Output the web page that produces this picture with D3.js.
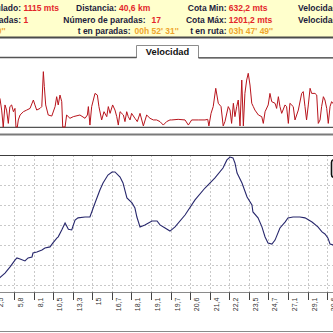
<!DOCTYPE html>
<html><head><meta charset="utf-8">
<script src="https://cdn.jsdelivr.net/npm/d3@7"></script>
<style>body{margin:0;background:#fff}svg{display:block}text{font-family:"Liberation Sans",Arial,sans-serif}</style>
</head><body>
<script>
// ---- data ----
const headerCol1Labels = ["Desnivel acumulado:", "Paradas:", "t total:"];
const headerCol1Values = ["1115 mts", "1", "04h 40' 20''"];
const headerCol2Labels = ["Distancia:", "Número de paradas:", "t en paradas:"];
const headerCol2Values = ["40,6 km", "17", "00h 52' 31''"];
const headerCol3Labels = ["Cota Min:", "Cota Máx:", "t en ruta:"];
const headerCol3Values = ["632,2 mts", "1201,2 mts", "03h 47' 49''"];
const headerCol4Labels = ["Velocidad media:", "Velocidad máxima:"];
const tabTitle = "Velocidad";

const tickTimes = [10,20,30,40,50,60,70,80,90,100,110,120,130,140,150,160,170,180];
const tickLabels = ["2,5","5,8","8,1","10,5","13,3","15","16,7","18,1","19,1","19,7","20,6","21,4","22,2","23,5","24,7","27,1","29,1","30,6"];

const elevTime = [11,12.8,15.4,18.0,20.5,21.5,23.1,25.6,27.2,29.2,29.7,31.7,34.3,35.8,38.4,39.9,42.0,42.6,44.4,46.1,47.8,49.5,51.2,52.7,56.3,58.8,61.4,63.9,65.5,68.0,70.1,71.6,74.2,75.7,77.7,80.3,81.8,82.8,84.4,86.9,90.5,93.1,94.6,97.2,99.7,102.3,107.4,112.5,117.6,122.7,126.8,128.8,130.4,131.9,132.9,134.0,136.5,139.1,141.6,142.1,144.7,146.7,148.3,149.8,151.8,153.4,155.9,158.5,160.0,162.6,166.1,168.7,172.3,175.3,177.4,178.9,180.4,181.5,183.0,184];
const elevValue = [640,652,673,701,732,742,737,728,742,746,764,769,778,787,792,810,833,838,869,901,872,869,914,924,928,928,992,1051,1083,1119,1133,1133,1110,1083,1015,992,969,928,883,892,910,910,892,878,864,883,937,1006,1060,1106,1151,1188,1201,1197,1174,1128,1083,1019,983,951,924,883,837,810,805,823,878,905,924,928,928,924,905,883,860,851,833,805,801,798];

const speedTime = [12.8,13.7,14.5,15.4,16.2,17.1,17.9,18.8,19.7,20.5,21.0,21.7,22.2,23.1,24.8,26.5,28.2,29.9,30.7,31.6,33.3,34.2,35.0,35.5,36.2,37.5,39.3,41.0,41.8,42.6,43.5,44.4,44.9,46.1,46.9,48.6,50.3,53.7,56.3,57.5,58.0,58.8,59.7,61.4,62.6,63.4,64.8,66.0,67.4,68.2,69.1,70.4,71.6,72.5,73.3,74.2,75.9,76.7,77.6,78.4,79.3,80.1,81.8,83.0,84.4,86.1,87.8,89.5,91.2,92.9,94.6,96.3,98.0,99.7,100.6,103.9,107.4,109.1,110.8,114.2,117.6,119.0,119.6,120.7,121.8,123.1,124.4,125.8,126.9,127.8,129.5,130.4,131.2,132.1,132.9,133.8,134.6,135.5,136.4,137.2,138.0,138.9,139.7,140.6,141.5,142.3,143.1,144.9,146.6,147.4,148.3,149.9,150.8,151.7,153.4,154.2,155.1,155.9,156.8,158.5,159.3,160.2,161.0,162.7,163.6,165.3,167.0,167.8,168.7,169.5,170.4,171.3,172.1,173.8,174.7,175.5,176.4,177.2,178.1,178.9,179.8,180.6,181.5,182.3,183.5];
const speedValue = [19.1,11.3,0,14.7,11.3,2.4,13.6,14.7,10.2,12.4,0,0,4.7,8,10.2,11.3,12.4,18,14.7,11.3,12.4,13.6,36.9,26.9,14.7,8,7.3,13.6,20.2,14.7,21.3,16.9,0,0,8,5.8,6.9,8,5.8,8,13.6,1.3,13.6,22.4,21.3,13.6,4.7,10.2,6.9,13.6,9.1,14.7,11.3,6.9,1.3,10.2,8,3.6,10.2,6.9,4.7,9.1,5.8,3.6,9.1,0.7,8,5.8,4.7,4.7,3.6,1.3,3.6,4.7,4.7,5.1,4.7,1.3,4.7,4.7,4.7,5.1,0.7,9.1,13.6,25.8,15.8,13.6,0.7,3.6,13.6,11.3,2.4,15.8,6.9,13.6,18,0.7,31.3,0.7,22.4,31.3,35.8,28,15.8,13.6,11.3,8,6.9,2.4,10.2,14.7,22.4,16.9,15.8,12.4,20.2,13.6,9.1,14.7,13.6,2.4,15.8,13.6,4.7,11.3,22.4,23.6,13.6,4.7,14.7,25.8,22.4,22.4,21.3,2.4,4.7,13.6,20.2,18,12.4,2.4,13.6,16.9,15];

// ---- drawing ----
const W = 333, H = 333;
const svg = d3.select("body").append("svg").attr("width", W).attr("height", H);

const labelColor = "#1c1c3c", redColor = "#e3262a", orangeColor = "#eea52c";

// header
svg.append("rect").attr("x",0).attr("y",0).attr("width",W).attr("height",37).attr("fill","#ffffcc");
svg.append("line").attr("x1",0).attr("x2",W).attr("y1",37.5).attr("y2",37.5).attr("stroke","#4a4a4a").attr("stroke-width",2);
const rowY = [10.5, 22.5, 34.2];
const hfs = 8.5;
function hText(x, y, str, color, anchor){
  svg.append("text").attr("x",x).attr("y",y).attr("font-size",hfs).attr("font-weight","bold")
    .attr("fill",color).attr("text-anchor",anchor||"start").text(str);
}
const valColor = i => i === 2 ? orangeColor : redColor;
// col1
headerCol1Labels.forEach((l,i)=>{
  if (i < 2) { hText(21, rowY[i], l, labelColor, "end"); hText(23.5, rowY[i], headerCol1Values[i], valColor(i)); }
  else { hText(5.5, rowY[i], headerCol1Values[i], valColor(i), "end"); hText(-43, rowY[i], l, labelColor, "end"); }
});
// col2
const c2LabelX = [76, 63.3, 77.7], c2ValX = [119, 151.5, 134.5];
headerCol2Labels.forEach((l,i)=>{ hText(c2LabelX[i], rowY[i], l, labelColor); hText(c2ValX[i], rowY[i], headerCol2Values[i], valColor(i)); });
// col3
headerCol3Labels.forEach((l,i)=>{ hText(226.5, rowY[i], l, labelColor, "end"); hText(228.8, rowY[i], headerCol3Values[i], valColor(i)); });
// col4
headerCol4Labels.forEach((l,i)=>{ hText(298, rowY[i], l, labelColor); });

// x scale (time) shared by both charts
const x = d3.scaleLinear().domain([10, 180]).range([-5.57, 327.1]);

// speed panel
const ySpeed = d3.scaleLinear().domain([0, 46]).range([127, 58]);
svg.append("path").attr("d","M136.5,58 V45.5 H198.5 V58").attr("fill","#fff").attr("stroke","#8c8c8c").attr("stroke-width",1);
svg.append("text").attr("x",167.5).attr("y",55).attr("text-anchor","middle").attr("font-size",9.3)
  .attr("font-weight","bold").attr("fill","#111").text(tabTitle);
svg.append("line").attr("x1",0).attr("x2",136.5).attr("y1",57.5).attr("y2",57.5).attr("stroke","#555").attr("stroke-width",1.3);
svg.append("line").attr("x1",198.5).attr("x2",W).attr("y1",57.8).attr("y2",57.8).attr("stroke","#333").attr("stroke-width",1.3);
svg.append("line").attr("x1",0).attr("x2",W).attr("y1",ySpeed(0)+0.3).attr("y2",ySpeed(0)+0.3).attr("stroke","#2a2a2a").attr("stroke-width",1);
const speedLine = d3.line().x((d,i)=>x(speedTime[i])).y(d=>ySpeed(d));
svg.append("path").datum(speedValue).attr("d",speedLine).attr("fill","none").attr("stroke","#b8141c").attr("stroke-width",1);
svg.append("line").attr("x1",0).attr("x2",W).attr("y1",134.5).attr("y2",134.5).attr("stroke","#7a7a7a").attr("stroke-width",2);

// elevation panel
const yElev = d3.scaleLinear().domain([586.7, 1210.3]).range([292, 155]);
const grid = svg.append("g").attr("stroke","#c9c9c9").attr("stroke-width",1).attr("stroke-dasharray","2,2");
d3.range(165, 290, 20).forEach(gy=>{
  grid.append("line").attr("x1",0).attr("x2",W).attr("y1",gy+0.5).attr("y2",gy+0.5);
});
tickTimes.forEach(t=>{
  const gx = Math.round(x(t)) + 0.5;
  grid.append("line").attr("x1",gx).attr("x2",gx).attr("y1",155).attr("y2",292);
});
svg.append("line").attr("x1",0).attr("x2",W).attr("y1",155.5).attr("y2",155.5).attr("stroke","#3c3c3c").attr("stroke-width",1);
const elevLine = d3.line().x((d,i)=>x(elevTime[i])).y(d=>yElev(d));
svg.append("path").datum(elevValue).attr("d",elevLine).attr("fill","none").attr("stroke","#27276c").attr("stroke-width",1.1);

// legend box edge
svg.append("rect").attr("x",331.5).attr("y",159.5).attr("width",20).attr("height",18).attr("rx",3)
  .attr("fill","#fff").attr("stroke","#111").attr("stroke-width",1.6);

// x axis
const axisG = svg.append("g").attr("transform","translate(0,292)");
axisG.append("line").attr("x1",0).attr("x2",W).attr("y1",0.5).attr("y2",0.5).attr("stroke","#8a8a8a");
tickTimes.forEach((t,i)=>{
  const tx = Math.round(x(t)) + 0.5;
  axisG.append("line").attr("x1",tx).attr("x2",tx).attr("y1",0.5).attr("y2",8).attr("stroke","#444");
  axisG.append("text").attr("transform",`translate(${tx+8},5.5) rotate(-90)`).attr("text-anchor","end")
    .attr("font-size",7).attr("fill","#333").text(tickLabels[i]);
});
svg.append("line").attr("x1",0).attr("x2",W).attr("y1",331.5).attr("y2",331.5).attr("stroke","#8a8a8a");
</script>
</body></html>
